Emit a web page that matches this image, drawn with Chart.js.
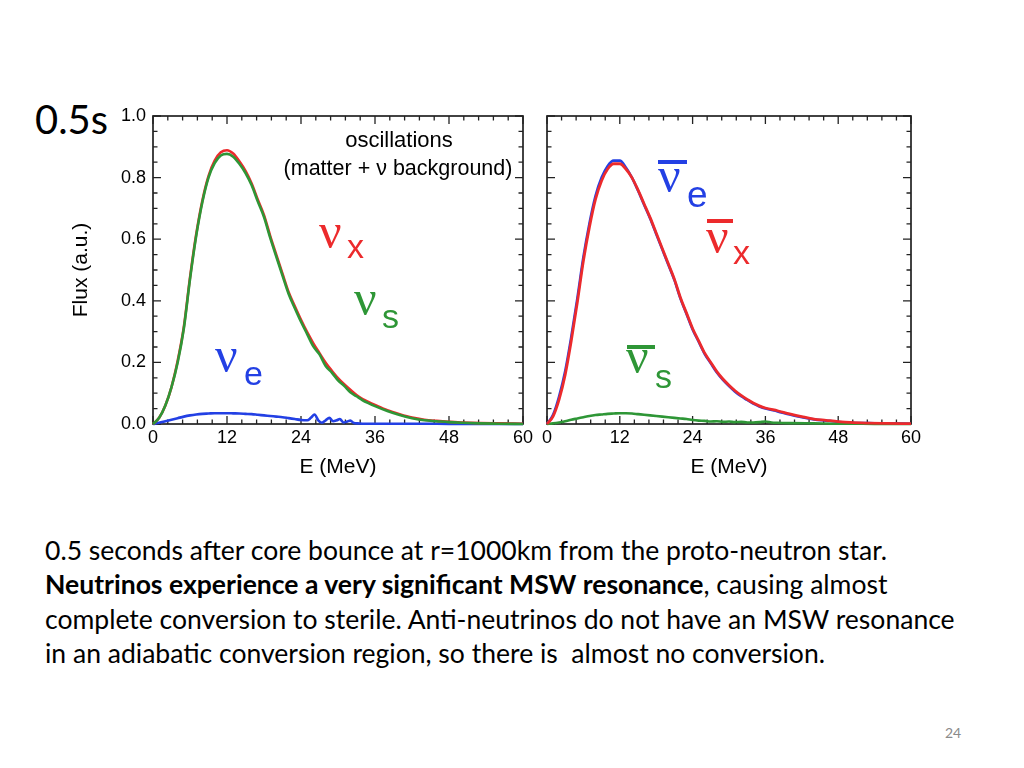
<!DOCTYPE html>
<html><head><meta charset="utf-8">
<script src="https://cdn.jsdelivr.net/npm/chart.js@4.4.0/dist/chart.umd.min.js"></script>
<style>
html,body{margin:0;padding:0;background:#fff;}
body{width:1024px;height:768px;overflow:hidden;position:relative;font-family:Lato,'Open Sans',sans-serif;color:#000;}
#c1{position:absolute;left:0;top:0;}
#c2{position:absolute;left:530px;top:0;}
.txt{position:absolute;white-space:pre;}
#para .ln{white-space:pre;}
#page{color:#8a8a8a;}
</style>
</head><body>
<div id="time" class="txt">0.5s</div>
<canvas id="c1" width="540" height="500"></canvas>
<canvas id="c2" width="494" height="500"></canvas>
<div id="para" class="txt"><div class="ln">0.5 seconds after core bounce at r=1000km from the proto-neutron star.</div><div class="ln"><b>Neutrinos experience a very significant MSW resonance</b>, causing almost</div><div class="ln">complete conversion to sterile. Anti-neutrinos do not have an MSW resonance</div><div class="ln">in an adiabatic conversion region, so there is  almost no conversion.</div></div>
<div id="page" class="txt">24</div>
<script>
// ---------------- data ----------------
const E_SMOOTH = [0,1,2,3,4,5,6,7,8,9,10,11,12,13,14,15,16,17,18,19,20,21,22,23,24,25,26,27,28,29,30,31,32,33,34,35,36,38,40,42,44,46,48,50,53,56,60];

// left panel (neutrinos)
const LEFT_NUX = [0,0.02,0.06,0.12,0.205,0.315,0.475,0.615,0.725,0.805,
  0.855,0.882,0.889,0.878,0.853,0.822,0.781,0.728,0.678,0.611,
  0.549,0.488,0.428,0.382,0.338,0.298,0.262,0.230,0.199,0.173,
  0.149,0.129,0.111,0.094,0.081,0.071,0.062,
  0.045,0.032,0.021,0.014,0.010,0.007,0.005,0.003,0.002,0.001];
const LEFT_NUS = [0,0.02,0.06,0.12,0.20,0.31,0.47,0.61,0.72,0.80,
  0.847,0.872,0.877,0.868,0.845,0.815,0.775,0.722,0.672,0.605,
  0.543,0.482,0.422,0.376,0.332,0.292,0.252,0.226,0.188,0.167,
  0.142,0.124,0.103,0.090,0.077,0.067,0.058,
  0.042,0.029,0.019,0.012,0.009,0.006,0.004,0.002,0.001,0];
const E_LEFT_NUE = [0,1,2,3,4,5,6,7,8,9,10,11,12,13,14,15,16,17,18,19,20,21,22,23,24,25,
  25.6,26.2,26.8,27.4,28.0,28.6,29.2,29.8,30.3,30.9,31.5,32.0,32.6,33.2,
  34,36,40,44,48,52,56,60];
const LEFT_NUE = [0,0.004,0.009,0.014,0.019,0.024,0.028,0.031,0.033,0.034,
  0.035,0.035,0.035,0.0345,0.034,0.033,0.032,0.030,0.028,0.026,
  0.024,0.022,0.019,0.016,0.013,0.012,
  0.02,0.031,0.012,0.004,0.012,0.02,0.009,0.012,0.016,0.005,0.008,0.011,0.003,0.002,
  0.001,0.001,0.001,0.001,0.0005,0.0005,0,0];

// right panel (anti-neutrinos)
const RIGHT_ANUX = [0,0.025,0.08,0.16,0.27,0.395,0.53,0.64,0.73,0.79,
  0.828,0.845,0.845,0.828,0.80,0.76,0.715,0.67,0.62,0.57,
  0.52,0.47,0.41,0.36,0.31,0.27,0.23,0.20,0.17,0.146,
  0.126,0.108,0.093,0.08,0.068,0.059,0.052,
  0.043,0.033,0.024,0.016,0.012,0.008,0.005,0.003,0.002,0.001];
const RIGHT_ANUE = [0,0.03,0.09,0.172,0.283,0.408,0.542,0.652,0.741,0.80,
  0.838,0.855,0.855,0.833,0.80,0.758,0.712,0.667,0.617,0.567,
  0.517,0.467,0.407,0.357,0.307,0.267,0.227,0.197,0.167,0.143,
  0.123,0.105,0.09,0.078,0.066,0.057,0.05,
  0.041,0.031,0.022,0.015,0.011,0.007,0.004,0.003,0.002,0.001];
const E_RIGHT_ANUS = [0,1,2,3,4,5,6,7,8,9,10,11,12,13,14,15,16,17,18,19,20,21,22,23,24,25,26,27,28,29,30,31,32,33,34,35,36,37,38,40,44,48,52,56,60];
const RIGHT_ANUS = [0,0.002,0.005,0.009,0.014,0.018,0.022,0.026,0.029,0.031,
  0.033,0.034,0.035,0.035,0.034,0.032,0.030,0.028,0.026,0.024,
  0.022,0.020,0.018,0.016,0.013,0.011,0.010,0.008,0.009,0.007,
  0.008,0.006,0.007,0.005,0.005,0.006,0.008,0.005,0.004,
  0.003,0.002,0.001,0.001,0,0];

// axes
const X_TICK_VALUES = [0,12,24,36,48,60];
const X_TICK_LABELS = ['0','12','24','36','48','60'];
const Y_TICK_VALUES = [0,0.2,0.4,0.6,0.8,1.0];
const Y_TICK_LABELS = ['0.0','0.2','0.4','0.6','0.8','1.0'];
const X_MARKS = [0,2.4,4.8,7.2,9.6,12,14.4,16.8,19.2,21.6,24,26.4,28.8,31.2,33.6,36,38.4,40.8,43.2,45.6,48,50.4,52.8,55.2,57.6,60];
const Y_MARKS = [0,0.05,0.1,0.15,0.2,0.25,0.3,0.35,0.4,0.45,0.5,0.55,0.6,0.65,0.7,0.75,0.8,0.85,0.9,0.95,1.0];

// ---------------- styles ----------------
const RED = '#ec2a2c', GREEN = '#2e9636', BLUE = '#2340e4';
const AX_FONT = 'Liberation Sans';

function pts(xs, ys){ return xs.map((x,i)=>({x:x, y:ys[i]})); }
// "order": higher value is drawn first (lower value ends up on top)
function ds(label, xs, ys, color, w, order){
  return {label, data: pts(xs, ys), borderColor: color, backgroundColor: color,
    borderWidth: w || 2.6, pointRadius: 0, fill: false, cubicInterpolationMode: 'monotone',
    clip: 6, order: order};
}

const framePlugin = {
  id: 'frame',
  beforeDatasetsDraw(chart){
    const {ctx, chartArea:{left,right,top,bottom}, scales:{x,y}} = chart;
    ctx.save();
    ctx.strokeStyle = '#222';
    ctx.lineWidth = 1.7;
    ctx.strokeRect(left, top, right-left, bottom-top);
    ctx.lineWidth = 1.3;
    ctx.beginPath();
    X_MARKS.forEach(v=>{
      const px = x.getPixelForValue(v);
      const len = X_TICK_VALUES.some(t=>Math.abs(t-v)<1e-6) ? 8 : 4.5;
      ctx.moveTo(px, bottom); ctx.lineTo(px, bottom-len);
      ctx.moveTo(px, top); ctx.lineTo(px, top+len);
    });
    Y_MARKS.forEach(v=>{
      const py = y.getPixelForValue(v);
      const len = Y_TICK_VALUES.some(t=>Math.abs(t-v)<1e-6) ? 8 : 4.5;
      ctx.moveTo(left, py); ctx.lineTo(left+len, py);
      ctx.moveTo(right, py); ctx.lineTo(right-len, py);
    });
    ctx.stroke();
    ctx.restore();
  }
};

const labelPlugin = {
  id: 'labels',
  afterDatasetsDraw(chart, args, opts){
    const ctx = chart.ctx;
    const dx = opts.offset || 0;
    ctx.save();
    ctx.textBaseline = 'alphabetic';
    (opts.items || []).forEach(it=>{
      if (it.bar){
        ctx.fillStyle = it.color;
        ctx.fillRect(it.x-dx, it.y, it.w, it.h);
        return;
      }
      ctx.font = it.font;
      ctx.fillStyle = it.color;
      ctx.textAlign = it.align || 'left';
      ctx.fillText(it.text, it.x-dx, it.y);
    });
    ctx.restore();
  }
};

const NU_FONT = '50px "Liberation Serif"';
const SUB_FONT = '34px "Liberation Sans"';

function baseOptions(showYLabels, padRight, yWidth, items, offset){
  return {
    responsive: false, animation: false, devicePixelRatio: 1,
    layout: {padding: {left: 0, right: padRight, top: 116, bottom: 0}},
    plugins: {legend: {display: false}, tooltip: {enabled: false},
      labels: {items: items, offset: offset}},
    scales: {
      x: {type: 'linear', min: 0, max: 60, position: 'bottom',
        grid: {display: false, drawTicks: false}, border: {display: false},
        afterBuildTicks: s => { s.ticks = X_TICK_VALUES.map(v=>({value: v})); },
        ticks: {color: '#000', font: {family: AX_FONT, size: 18}, padding: 3,
          maxRotation: 0, autoSkip: false,
          callback: (v, i) => X_TICK_LABELS[i]},
        title: {display: true, text: 'E (MeV)', color: '#000',
          font: {family: AX_FONT, size: 21}, padding: {top: 0, bottom: 20}},
        afterFit: s => { s.height = 76; }
      },
      y: {type: 'linear', min: 0, max: 1, position: 'left',
        grid: {display: false, drawTicks: false}, border: {display: false},
        afterBuildTicks: s => { s.ticks = Y_TICK_VALUES.map(v=>({value: v})); },
        ticks: {display: showYLabels, color: '#000', font: {family: AX_FONT, size: 18}, padding: 7,
          callback: (v, i) => Y_TICK_LABELS[i]},
        title: {display: showYLabels, text: 'Flux (a.u.)', color: '#000',
          font: {family: AX_FONT, size: 21}, padding: {top: 69, bottom: 0}},
        afterFit: s => { s.width = yWidth; }
      }
    }
  };
}

const leftItems = [
  {text: 'oscillations', x: 399, y: 147, font: '22px "Liberation Sans"', color: '#000', align: 'center'},
  {text: '(matter + \u03bd background)', x: 398, y: 175, font: '21.5px "Liberation Sans"', color: '#000', align: 'center'},
  {text: '\u03bd', x: 319, y: 248, font: NU_FONT, color: RED},
  {text: 'x', x: 347, y: 258, font: SUB_FONT, color: RED},
  {text: '\u03bd', x: 354, y: 315, font: NU_FONT, color: GREEN},
  {text: 's', x: 382, y: 328, font: SUB_FONT, color: GREEN},
  {text: '\u03bd', x: 215, y: 372, font: NU_FONT, color: BLUE},
  {text: 'e', x: 244, y: 385, font: SUB_FONT, color: BLUE}
];
const rightItems = [
  {bar: true, x: 658, y: 160, w: 29, h: 4, color: BLUE},
  {text: '\u03bd', x: 658, y: 192, font: NU_FONT, color: BLUE},
  {text: 'e', x: 687, y: 207, font: '37px "Liberation Sans"', color: BLUE},
  {bar: true, x: 707, y: 219, w: 26, h: 4, color: RED},
  {text: '\u03bd', x: 706, y: 253, font: NU_FONT, color: RED},
  {text: 'x', x: 733, y: 264, font: SUB_FONT, color: RED},
  {bar: true, x: 627, y: 345, w: 28, h: 4, color: GREEN},
  {text: '\u03bd', x: 626, y: 373, font: NU_FONT, color: GREEN},
  {text: 's', x: 655, y: 388, font: SUB_FONT, color: GREEN}
];

new Chart(document.getElementById('c1'), {
  type: 'line',
  data: {datasets: [
    ds('\u03bd_e', E_LEFT_NUE, LEFT_NUE, BLUE, 2.6, 3),
    ds('\u03bd_x', E_SMOOTH, LEFT_NUX, RED, 2.6, 2),
    ds('\u03bd_s', E_SMOOTH, LEFT_NUS, GREEN, 2.6, 1)
  ]},
  options: baseOptions(true, 17, 153, leftItems, 0),
  plugins: [framePlugin, labelPlugin]
});

new Chart(document.getElementById('c2'), {
  type: 'line',
  data: {datasets: [
    ds('anti \u03bd_e', E_SMOOTH, RIGHT_ANUE, BLUE, 2.6, 3),
    ds('anti \u03bd_x', E_SMOOTH, RIGHT_ANUX, RED, 2.8, 1),
    ds('anti \u03bd_s', E_RIGHT_ANUS, RIGHT_ANUS, GREEN, 2.6, 2)
  ]},
  options: baseOptions(false, 113, 17, rightItems, 530),
  plugins: [framePlugin, labelPlugin]
});

// ---------------- page text layout ----------------
const mctx = document.createElement('canvas').getContext('2d');
function fitSize(text, weight, family, targetW){
  mctx.font = weight + ' 100px ' + family;
  return 100 * targetW / mctx.measureText(text).width;
}
function metrics(size, weight, family){
  mctx.font = weight + ' ' + size + 'px ' + family;
  const m = mctx.measureText('Hg');
  return {a: m.fontBoundingBoxAscent, d: m.fontBoundingBoxDescent};
}
function placeBaseline(el, left, baseline, size, weight, family, lh){
  const m = metrics(size, weight, family);
  el.style.fontSize = size + 'px';
  el.style.lineHeight = lh + 'px';
  el.style.left = left + 'px';
  el.style.top = (baseline - (lh/2 + (m.a - m.d)/2)) + 'px';
}
const FAM = 'Lato';
const paraSize = fitSize('0.5 seconds after core bounce at r=1000km from the proto-neutron star.', 'normal', FAM, 843);
placeBaseline(document.getElementById('para'), 45, 560, paraSize, 'normal', FAM, 34.5);
const timeSize = fitSize('0.5s', 'normal', FAM, 73);
placeBaseline(document.getElementById('time'), 35, 135, timeSize, 'normal', FAM, timeSize*1.2);
placeBaseline(document.getElementById('page'), 945, 738, 14, 'normal', FAM, 17);
</script>
</body></html>
